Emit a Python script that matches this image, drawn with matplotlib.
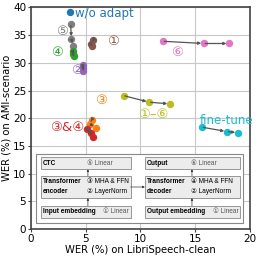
import matplotlib
matplotlib.use("Agg")
import matplotlib.pyplot as plt
from matplotlib.patches import Rectangle

# (WER LibriSpeech-clean, WER AMI-scenario) chains
wo_adapt = ([3.55], [39.2])
layer5 = ([3.62, 3.7, 3.8], [37.0, 34.3, 33.1])          # gray
layer4 = ([3.8, 3.85, 3.9], [32.1, 31.6, 31.2])          # green
layer2 = ([4.72, 4.75, 4.78], [29.6, 29.0, 28.6])        # purple
layer1 = ([5.7, 5.45, 5.6], [34.1, 33.4, 33.0])          # brown
layer6 = ([12.05, 15.8, 18.1], [33.9, 33.5, 33.5])       # pink
layer3 = ([5.55, 5.35, 5.95], [19.7, 19.0, 18.3])        # orange
layer34 = ([5.15, 5.45, 5.7], [18.0, 17.3, 16.7])        # red
layer_all = ([8.45, 10.8, 12.7], [24.1, 22.9, 22.6])     # olive
finetune = ([15.6, 17.9, 18.9], [18.4, 17.6, 17.4])      # cyan

series = [
    (layer5, "#7f7f7f", "⑤", 2.8, 35.6),
    (layer4, "#2ca02c", "④", 2.4, 31.8),
    (layer2, "#9467bd", "②", 4.2, 28.7),
    (layer1, "#8c564b", "①", 7.5, 33.8),
    (layer6, "#e377c2", "⑥", 13.3, 31.8),
    (layer3, "#ff7f0e", "③", 6.4, 23.2),
    (layer34, "#d62728", "③&④", 3.3, 18.3),
    (layer_all, "#bcbd22", "①–⑥", 11.2, 20.6),
    (finetune, "#17becf", None, 0, 0),
]

fig = plt.figure(figsize=(2.58, 2.58), dpi=100)
ax = fig.add_axes([0.12, 0.112, 0.849, 0.859])
ax.set_xlim(0, 20)
ax.set_ylim(0, 40)
ax.set_xticks([0, 5, 10, 15, 20])
ax.set_yticks([0, 5, 10, 15, 20, 25, 30, 35, 40])
ax.grid(color="#c8c8c8", lw=0.8)
ax.set_axisbelow(True)
for s in ax.spines.values():
    s.set_color("#444444")
    s.set_linewidth(1.2)
ax.tick_params(labelsize=7.5, length=2, color="#444444", pad=1.5)
ax.set_xlabel("WER (%) on LibriSpeech-clean", fontsize=7.2, labelpad=1)
ax.set_ylabel("WER (%) on AMI-scenario", fontsize=7.2, labelpad=1)

ax.plot(*wo_adapt, "o", color="#1f77b4", ms=4.3, zorder=3)
ax.text(4.0, 39.0, "w/o adapt", color="#1f77b4", fontsize=8.5, va="center")

for (xs, ys), col, lab, lx, ly in series:
    ax.plot(xs, ys, "o", color=col, ms=4.3, zorder=3)
    for i in range(len(xs) - 1):
        ax.annotate("", xy=(xs[i + 1], ys[i + 1]), xytext=(xs[i], ys[i]),
                    arrowprops=dict(arrowstyle="-|>", color="#555555", lw=0.9,
                                    mutation_scale=4, shrinkA=1, shrinkB=2),
                    zorder=4)
    if lab:
        ax.text(lx, ly, lab, color=col, fontsize=9.5, ha="center", va="center",
                family=["DejaVu Sans"])
ax.text(15.4, 19.6, "fine-tune", color="#17becf", fontsize=8.5, va="center")

# inset diagram
ax.add_patch(Rectangle((0.5, 1.1), 18.9, 12.5, facecolor="white",
                       edgecolor="#888888", lw=0.8, zorder=5))
boxes = [
    (0.9, 10.8, 8.2, 2.2), (0.9, 5.6, 8.2, 4.0), (0.9, 2.0, 8.2, 2.2),
    (10.4, 10.8, 8.7, 2.2), (10.4, 5.6, 8.7, 4.0), (10.4, 2.0, 8.7, 2.2),
]
for bx, by, bw, bh in boxes:
    ax.add_patch(Rectangle((bx, by), bw, bh, facecolor="#ececec",
                           edgecolor="#888888", lw=0.6, zorder=6))

fs = 4.7
tk = dict(fontsize=fs, va="center", zorder=7,
          family=["Liberation Sans", "DejaVu Sans"])
ax.text(1.1, 11.9, "CTC", fontweight="bold", **tk)
ax.text(5.1, 11.9, "⑤ Linear", color="#555555", **tk)
ax.text(1.1, 7.6, "Transformer\nencoder", fontweight="bold", linespacing=1.6, **tk)
ax.text(5.1, 7.6, "③ MHA & FFN\n② LayerNorm", linespacing=1.6, **tk)
ax.text(1.1, 3.1, "Input embedding", fontweight="bold", **tk)
ax.text(8.95, 3.1, "① Linear", color="#555555", ha="right", **tk)
ax.text(10.6, 11.9, "Output", fontweight="bold", **tk)
ax.text(14.6, 11.9, "⑥ Linear", color="#555555", **tk)
ax.text(10.6, 7.6, "Transformer\ndecoder", fontweight="bold", linespacing=1.6, **tk)
ax.text(14.6, 7.6, "④ MHA & FFN\n② LayerNorm", linespacing=1.6, **tk)
ax.text(10.6, 3.1, "Output embedding", fontweight="bold", **tk)
ax.text(18.95, 3.1, "① Linear", color="#555555", ha="right", **tk)

arr = dict(arrowstyle="-|>", color="#333333", lw=0.5, mutation_scale=3,
           shrinkA=0, shrinkB=0)
for ax_x in (5.2, 14.7):
    ax.annotate("", xy=(ax_x, 10.8), xytext=(ax_x, 9.6), arrowprops=arr, zorder=7)
    ax.annotate("", xy=(ax_x, 5.6), xytext=(ax_x, 4.2), arrowprops=arr, zorder=7)
ax.annotate("", xy=(10.4, 7.6), xytext=(9.1, 7.6), arrowprops=arr, zorder=7)

fig.savefig("out.png", dpi=100)
